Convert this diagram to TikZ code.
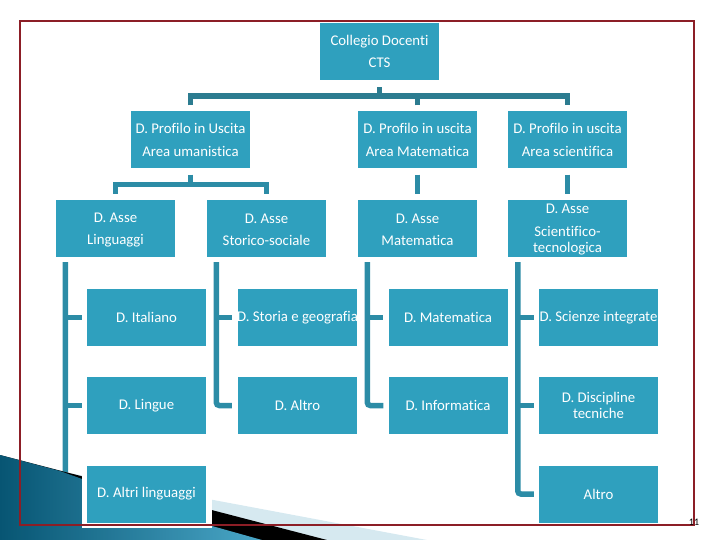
\documentclass[tikz,border=0pt]{standalone}
\usepackage{fontspec}
\setmainfont{Carlito}[Ligatures={NoCommon}]
\usetikzlibrary{backgrounds}
\definecolor{boxc}{RGB}{47,160,190}
\definecolor{topc}{RGB}{44,124,144}
\definecolor{conc}{RGB}{44,140,166}
\definecolor{framec}{RGB}{140,30,38}
\definecolor{lightb}{RGB}{214,233,240}
\definecolor{wedgeA}{RGB}{8,92,124}
\definecolor{wedgeB}{RGB}{80,180,215}
\begin{document}
\begin{tikzpicture}[x=1pt,y=-1pt,
  box/.style={rectangle,fill=boxc,minimum width=119pt,minimum height=57pt,inner sep=0pt},
  txt/.style={text=white,align=center,inner sep=0pt,font=\fontsize{14.8pt}{16pt}\selectfont},
  topconn/.style={draw=topc,line width=5.5pt},
  conn/.style={draw=conc,line width=5.5pt},
  framestyle/.style={draw=framec,line width=2pt}]
\useasboundingbox (0,0) rectangle (720,540);
% boxes
\node[box] (cd) at (379.5,51.5) {};
\node[box] (p1) at (190.5,140) {};
\node[box] (p2) at (417.5,140) {};
\node[box] (p3) at (567.5,140) {};
\node[box] (a1) at (115.5,228.5) {};
\node[box] (a2) at (266.5,228.5) {};
\node[box] (a3) at (417.5,228.5) {};
\node[box] (a4) at (567.5,228.5) {};
\node[box] (it) at (146.5,317.5) {};
\node[box] (li) at (146.5,405.5) {};
\node[box] (al) at (146.5,494) {};
\node[box] (st) at (297.5,317.5) {};
\node[box] (ot) at (297.5,405.5) {};
\node[box] (ma) at (448,317.5) {};
\node[box] (inf) at (448,405.5) {};
\node[box] (sc) at (598.5,317.5) {};
\node[box] (dt) at (598.5,405.5) {};
\node[box] (ar) at (598.5,494) {};
% texts
\node[txt] (cd-t) at (cd) {Collegio Docenti\\[6pt]CTS};
\node[txt] (p1-t) at (p1) {D. Profilo in Uscita\\[7pt]Area umanistica};
\node[txt] (p2-t) at (p2) {D. Profilo in uscita\\[7pt]Area Matematica};
\node[txt] (p3-t) at (p3) {D. Profilo in uscita\\[7pt]Area scientifica};
\node[txt] (a1-t) at ([yshift=-1.5pt]a1.center) {D. Asse\\[6pt]Linguaggi};
\node[txt] (a2-t) at ([yshift=-1.5pt]a2.center) {D. Asse\\[6pt]Storico-sociale};
\node[txt] (a3-t) at ([yshift=-1.5pt]a3.center) {D. Asse\\[6pt]Matematica};
\node[txt] (a4-t) at ([yshift=-1.5pt]a4.center) {D. Asse\\[7pt]Scientifico-\\tecnologica};
\node[txt] (it-t) at (it) {D. Italiano};
\node[txt] (li-t) at (li) {D. Lingue};
\node[txt] (al-t) at (al) {D. Altri linguaggi};
\node[txt] (st-t) at (st) {D. Storia e geografia};
\node[txt] (ot-t) at (ot) {D. Altro};
\node[txt] (ma-t) at (ma) {D. Matematica};
\node[txt] (inf-t) at (inf) {D. Informatica};
\node[txt] (sc-t) at (sc) {D. Scienze integrate};
\node[txt] (dt-t) at (dt) {D. Discipline\\tecniche};
\node[txt] (ar-t) at (ar) {Altro};
\begin{pgfonlayer}{background}
  % top level connectors
  \coordinate (bary) at (0,96);
  \draw[topconn] ([yshift=-7pt]cd.south) -- (cd.south |- bary);
  \draw[topconn] ([yshift=6pt]p1.north) -- (p1.north |- bary) -- (p3.north |- bary) -- ([yshift=6pt]p3.north);
  \draw[topconn] ([yshift=6pt]p2.north) -- (p2.north |- bary);
  % second level
  \coordinate (bar1y) at (0,184.5);
  \draw[conn] ([yshift=-6pt]p1.south) -- (p1.south |- bar1y);
  \draw[conn] ([yshift=6pt]a1.north) -- (a1.north |- bar1y) -- (a2.north |- bar1y) -- ([yshift=6pt]a2.north);
  \draw[conn] ([yshift=-6pt]p2.south) -- ([yshift=6pt]a3.north);
  \draw[conn] ([yshift=-6pt]p3.south) -- ([yshift=6pt]a4.north);
  % brackets
  \coordinate (v1) at ([xshift=9.5pt,yshift=-5pt]a1.south west);
  \coordinate (v2) at ([xshift=9.5pt,yshift=-5pt]a2.south west);
  \coordinate (v3) at ([xshift=9.5pt,yshift=-5pt]a3.south west);
  \coordinate (v4) at ([xshift=10pt,yshift=-5pt]a4.south west);
  \draw[conn,rounded corners=3pt] (v1) |- ([xshift=-5pt]al.west);
  \draw[conn] (v1 |- it.west) -- ([xshift=-5pt]it.west);
  \draw[conn] (v1 |- li.west) -- ([xshift=-5pt]li.west);
  \draw[conn,rounded corners=3pt] (v2) |- ([xshift=-6pt]ot.west);
  \draw[conn] (v2 |- st.west) -- ([xshift=-6pt]st.west);
  \draw[conn,rounded corners=3pt] (v3) |- ([xshift=-5pt]inf.west);
  \draw[conn] (v3 |- ma.west) -- ([xshift=-5pt]ma.west);
  \draw[conn,rounded corners=3pt] (v4) |- ([xshift=-5pt]ar.west);
  \draw[conn] (v4 |- sc.west) -- ([xshift=-5pt]sc.west);
  \draw[conn] (v4 |- dt.west) -- ([xshift=-5pt]dt.west);
  % slide decoration
  \fill[lightb] (0,460) -- (427,540) -- (0,540) -- cycle;
  \fill[black] (0,455) -- (327,540) -- (0,540) -- cycle;
  \shade[left color=wedgeA,right color=wedgeB,opacity=0.93] (0,455) -- (60,471) -- (212,526) -- (262,540) -- (0,540) -- cycle;
  % white halo behind last box
  \fill[white] ([xshift=-5pt,yshift=4pt]al.north west) rectangle ([xshift=6pt,yshift=-5pt]al.south east);
\end{pgfonlayer}
\draw[framestyle] (20,21) rectangle (694,525);
\node[inner sep=0pt,font=\fontsize{10pt}{12pt}\selectfont] (pg) at (694,522) {11};
\end{tikzpicture}
\end{document}
